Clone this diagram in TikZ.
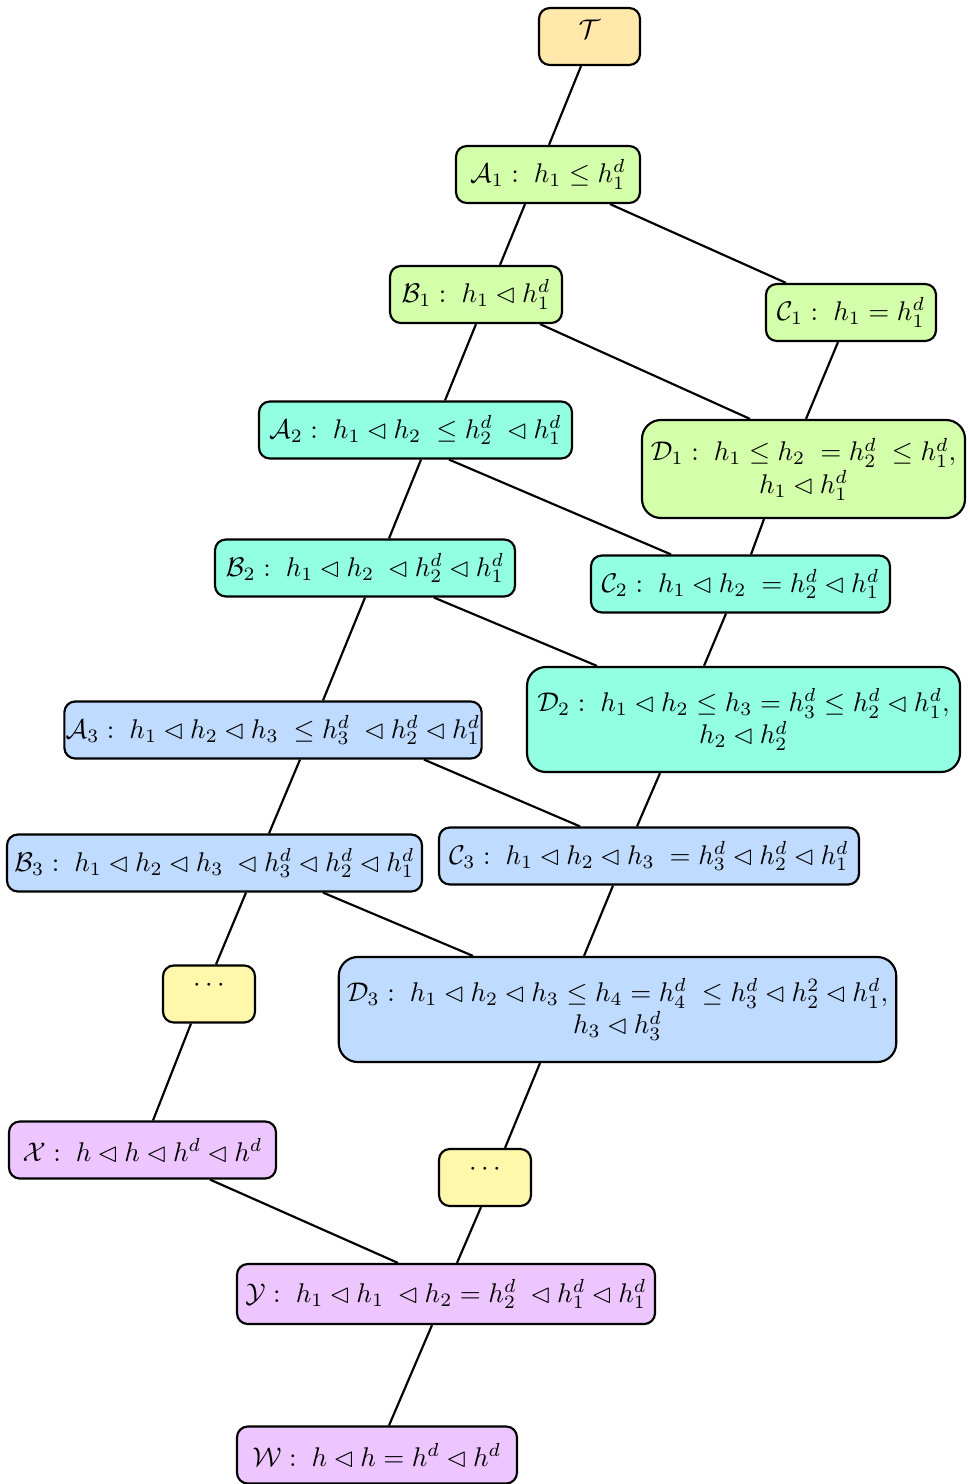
\documentclass[tikz,border=0pt]{standalone}
\usepackage{amssymb}
\usetikzlibrary{calc}

\newlength\unitpx
\setlength\unitpx{0.37pt}

\definecolor{topcol}{HTML}{FFE8AA}
\definecolor{lvone}{HTML}{D4FFAA}
\definecolor{lvtwo}{HTML}{92FFE2}
\definecolor{lvthree}{HTML}{BFDBFF}
\definecolor{dotcol}{HTML}{FFF7AA}
\definecolor{endcol}{HTML}{EEC6FF}

\begin{document}
\begin{tikzpicture}[
x=\unitpx, y=-\unitpx,
every node/.style={
    draw,
    thick,
    rounded corners=4pt,
    minimum height=57\unitpx,
    inner sep=3pt
},
wide/.style={minimum width=#1\unitpx},
twoline/.style={align=center, rounded corners=7pt},
raised/.style={text depth=#1},
tight/.style={inner xsep=0.5pt},
link/.style={thick}
]
\useasboundingbox (0,0) rectangle (969,1484);

%---------------- Root ----------------
\node[fill=topcol, wide=101, raised=5.6pt] (t) at (589.5,36.5) {$\mathcal{T}$};

%---------------- Level 1 ----------------
\node[fill=lvone, wide=184] (a1) at (548,174.5) {$\mathcal{A}_1:\; h_1 \le h_1^d$};
\node[fill=lvone, wide=172] (b1) at (476,294.5) {$\mathcal{B}_1:\; h_1 \lhd h_1^d$};
\node[fill=lvone, wide=170] (c1) at (851,312.5) {$\mathcal{C}_1:\; h_1 = h_1^d$};
\node[fill=lvone, wide=323, minimum height=98\unitpx, twoline] (d1) at (803.5,469)
    {$\mathcal{D}_1:\; h_1 \le h_2 \; = h_2^d \; \le h_1^d,$\\ $h_1 \lhd h_1^d$};

%---------------- Level 2 ----------------
\node[fill=lvtwo, wide=313] (a2) at (415.5,430) {$\mathcal{A}_2:\; h_1 \lhd h_2 \; \le h_2^d \; \lhd h_1^d$};
\node[fill=lvtwo, wide=300] (b2) at (365,568) {$\mathcal{B}_2:\; h_1 \lhd h_2 \; \lhd h_2^d \lhd h_1^d$};
\node[fill=lvtwo, wide=299] (c2) at (740.5,584) {$\mathcal{C}_2:\; h_1 \lhd h_2 \; = h_2^d \lhd h_1^d$};
\node[fill=lvtwo, wide=433, minimum height=105\unitpx, twoline] (d2) at (743.5,719.5)
    {$\mathcal{D}_2:\; h_1 \lhd h_2 \le h_3 = h_3^d \le h_2^d \lhd h_1^d,$\\ $h_2 \lhd h_2^d$};

%---------------- Level 3 ----------------
\node[fill=lvthree, wide=414, tight] (a3) at (273,730) {$\mathcal{A}_3:\; h_1 \lhd h_2 \lhd h_3 \; \le h_3^d \; \lhd h_2^d \lhd h_1^d$};
\node[fill=lvthree, wide=415, tight] (b3) at (214.5,863) {$\mathcal{B}_3:\; h_1 \lhd h_2 \lhd h_3 \; \lhd h_3^d \lhd h_2^d \lhd h_1^d$};
\node[fill=lvthree, wide=420] (c3) at (649,856) {$\mathcal{C}_3:\; h_1 \lhd h_2 \lhd h_3 \; = h_3^d \lhd h_2^d \lhd h_1^d$};
\node[fill=lvthree, wide=557, minimum height=105\unitpx, twoline] (d3) at (617.5,1009.5)
    {$\mathcal{D}_3:\; h_1 \lhd h_2 \lhd h_3 \le h_4 = h_4^d \; \le h_3^d \lhd h_2^2 \lhd h_1^d,$\\ $h_3 \lhd h_3^d$};

%---------------- Gaps ----------------
\node[fill=dotcol, wide=92, raised=6pt] (g1) at (209,994) {$\cdots$};
\node[fill=dotcol, wide=92, raised=6pt] (g2) at (485,1177.5) {$\cdots$};

%---------------- Bottom ----------------
\node[fill=endcol, wide=267] (x) at (142.5,1150) {$\mathcal{X}:\; h \lhd h \lhd h^d \lhd h^d$};
\node[fill=endcol, wide=418, minimum height=60\unitpx] (y) at (446,1294) {$\mathcal{Y}:\; h_1 \lhd h_1 \; \lhd h_2 = h_2^d \; \lhd h_1^d \lhd h_1^d$};
\node[fill=endcol, wide=280] (w) at (377,1455) {$\mathcal{W}:\; h \lhd h = h^d \lhd h^d$};

%---------------- Links ----------------
\draw[link] ($(t.south)+(-8.5,0)$) -- ($(a1.north)+(1,0)$);
\draw[link] ($(a1.south)+(-23,0)$) -- ($(b1.north)+(24,0)$);
\draw[link] ($(a1.south)+(62,0)$) -- ($(c1.north)+(-65,0)$);
\draw[link] ($(b1.south)+(0,0)$) -- ($(a2.north)+(29.5,0)$);
\draw[link] ($(b1.south)+(64,0)$) -- ($(d1.north)+(-53.5,0)$);
\draw[link] ($(c1.south)+(-13,0)$) -- ($(d1.north)+(2.5,0)$);
\draw[link] ($(a2.south)+(5.5,0)$) -- ($(b2.north)+(24,0)$);
\draw[link] ($(a2.south)+(33.5,0)$) -- ($(c2.north)+(-69.5,0)$);
\draw[link] ($(d1.south)+(-39.5,0)$) -- ($(c2.north)+(10.5,0)$);
\draw[link] ($(b2.south)+(0,0)$) -- ($(a3.north)+(50,0)$);
\draw[link] ($(b2.south)+(69,0)$) -- ($(d2.north)+(-146.5,0)$);
\draw[link] ($(c2.south)+(-14.5,0)$) -- ($(d2.north)+(-39.5,0)$);
\draw[link] ($(a3.south)+(27,0)$) -- ($(b3.north)+(54.5,0)$);
\draw[link] ($(a3.south)+(151,0)$) -- ($(c3.north)+(-69,0)$);
\draw[link] ($(d2.south)+(-83.5,0)$) -- ($(c3.north)+(-12,0)$);
\draw[link] ($(b3.south)+(31.5,0)$) -- ($(g1.north)+(7,0)$);
\draw[link] ($(b3.south)+(108.5,0)$) -- ($(d3.north)+(-144.5,0)$);
\draw[link] ($(c3.south)+(-36,0)$) -- ($(d3.north)+(-33.5,0)$);
\draw[link] ($(g1.south)+(-18,0)$) -- ($(x.north)+(10.5,0)$);
\draw[link] ($(d3.south)+(-77.5,0)$) -- ($(g2.north)+(20,0)$);
\draw[link] ($(x.south)+(67.5,0)$) -- ($(y.north)+(-48,0)$);
\draw[link] ($(g2.south)+(-4,0)$) -- ($(y.north)+(11,0)$);
\draw[link] ($(y.south)+(-14,0)$) -- ($(w.north)+(12,0)$);

\end{tikzpicture}
\end{document}
